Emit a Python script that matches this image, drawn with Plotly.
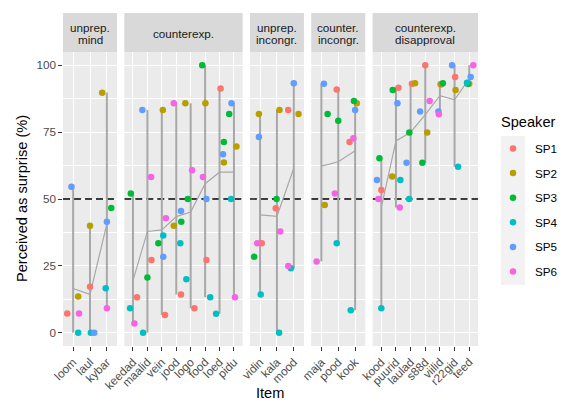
import plotly.graph_objects as go
from plotly.subplots import make_subplots

# Facets (strip labels) and the items inside each facet
facets = ["unprep.\nmind", "counterexp.", "unprep.\nincongr.", "counter.\nincongr.", "counterexp.\ndisapproval"]
facet_items = [
    ["loom", "laul", "kybar"],
    ["keedad", "maalid", "vein", "jood", "logo", "food", "loed", "pidu"],
    ["vidin", "kala", "mood"],
    ["maja", "pood", "kook"],
    ["kood", "puurid", "laulad", "s88d", "viilid", "r22gid", "teed"],
]

speakers = ["SP1", "SP2", "SP3", "SP4", "SP5", "SP6"]
colors = ["#F8766D", "#B79F00", "#00BA38", "#00BFC4", "#619CFF", "#F564E3"]

# Perceived as surprise (%) per speaker, items in facet order (None = no data)
SP1 = [7.2, 17.2, None, 13.2, 27.2, 6.6, 14.3, 9.1, 27.2, 91.3, None, 33.4, 46.5, 83.3,
       None, 91.0, 71.3, 53.4, 91.6, 93.1, 100, 92.9, 95.6, None]
SP2 = [13.5, 40.0, 89.8, None, None, 83.3, 40.0, 85.8, 85.8, 63.7, 69.6, 81.8, 83.3, 81.8,
       47.8, None, 85.8, None, 58.4, 93.3, 74.9, 92.9, 90.8, 93.1]
SP3 = [None, None, 46.6, 52.1, 20.6, 33.4, 41.5, 50.0, 100, 71.3, 81.8, 28.4, 50.0, None,
       81.8, 79.3, 86.7, 65.2, 90.8, 74.9, 63.6, 93.3, None, 93.1]
SP4 = [0, 0, 16.6, 9.1, 0, 36.3, 33.4, 20.0, 13.2, 7.1, 50.0, 14.3, 0, 24.1,
       None, 33.4, 8.4, 9.1, 57.1, 50.0, None, None, 62.1, 93.5]
SP5 = [54.6, 0, 41.5, None, 83.3, 28.4, 45.5, None, 50.0, 66.7, 85.8, 73.2, None, 93.3,
       93.1, None, 83.3, 57.1, 85.8, 63.6, 82.7, 82.7, 100, 95.6]
SP6 = [7.2, None, 9.1, 3.4, 58.2, 42.8, 85.8, 60.8, 58.2, None, 13.2, 33.4, 37.8, 24.9,
       26.6, 52.1, 72.7, 50.0, 46.8, None, 86.7, 81.7, None, 100]
values = [SP1, SP2, SP3, SP4, SP5, SP6]

# Horizontal jitter (in item units) applied to each point
J1 = [-0.35, 0, 0, 0.28, 0.28, 0.22, 0.33, 0.26, 0.09, 0.07, 0, 0.1, -0.07, -0.33,
      0, -0.09, -0.33, 0, 0.17, 0.09, 0, 0.04, 0.04, 0]
J2 = [0.30, 0, -0.28, 0, 0, 0.07, -0.17, -0.37, 0.02, 0.3, 0.17, -0.07, 0.15, 0.28,
      0.2, 0, 0.1, 0, -0.26, 0.3, 0.13, 0.09, 0.07, 0]
J3 = [0, 0, 0.26, -0.15, 0, -0.24, 0.35, -0.2, -0.2, 0.3, -0.33, -0.35, -0.02, 0,
      0.37, 0, -0.07, -0.13, -0.22, -0.09, -0.2, 0.2, 0, -0.1]
J4 = [0.30, 0.05, -0.07, -0.2, -0.3, 0.1, 0.28, -0.3, 0.35, -0.24, -0.2, 0.04, 0.13, -0.17,
      0, -0.09, -0.26, 0, 0.3, -0.1, 0, 0, 0.24, -0.15]
J5 = [-0.1, 0.25, 0, 0, -0.35, 0.1, 0.33, 0, 0.09, 0.24, -0.17, -0.07, 0, 0,
      0.15, 0, 0, -0.3, 0.1, -0.28, -0.35, -0.1, -0.17, 0.1]
J6 = [0.35, 0, 0, 0.1, 0.26, 0.28, -0.17, 0.1, -0.15, 0, 0.07, -0.17, 0.2, -0.33,
      -0.28, -0.2, -0.1, -0.2, 0.26, 0, 0.3, -0.07, 0, 0.28]
jitters = [J1, J2, J3, J4, J5, J6]

THRESHOLD = 50

FONT = "Liberation Sans, Arial, sans-serif"
LINE_GREY = "#A8A8A8"

# plot-area geometry in pixels
W, H = 566, 408
L, R, T, B = 63, 88, 52, 62
PW, PH = W - L - R, H - T - B


def px_x(x):
    return (x - L) / PW


def px_y(y):
    return 1 - (y - T) / PH


widths = [len(it) + 1.2 for it in facet_items]
fig = make_subplots(rows=1, cols=len(facets), shared_yaxes=True,
                    column_widths=widths, horizontal_spacing=7.3 / PW)

start = 0
for c, items in enumerate(facet_items, start=1):
    n = len(items)
    idx = list(range(start, start + n))
    pos = list(range(1, n + 1))

    # dashed reference line at 50 %
    fig.add_trace(go.Scatter(x=[0.4, n + 0.6], y=[THRESHOLD, THRESHOLD], mode="lines",
                             line=dict(color="black", width=1.4, dash="7px,4px"),
                             showlegend=False, hoverinfo="skip"), row=1, col=c)

    # min-max range line per item and the per-item mean line
    rx, ry, means = [], [], []
    for p, i in zip(pos, idx):
        vals = [v[i] for v in values if v[i] is not None]
        rx += [p, p, None]
        ry += [min(vals), max(vals), None]
        means.append(sum(vals) / len(vals))
    fig.add_trace(go.Scatter(x=rx, y=ry, mode="lines", line=dict(color=LINE_GREY, width=2),
                             showlegend=False, hoverinfo="skip"), row=1, col=c)
    fig.add_trace(go.Scatter(x=pos, y=means, mode="lines", line=dict(color=LINE_GREY, width=1.2),
                             showlegend=False, hoverinfo="skip"), row=1, col=c)

    for name, col, vals, jit in zip(speakers, colors, values, jitters):
        xs, ys = [], []
        for p, i in zip(pos, idx):
            if vals[i] is not None:
                xs.append(p + jit[i])
                ys.append(vals[i])
        fig.add_trace(go.Scatter(x=xs, y=ys, mode="markers", name=name,
                                 marker=dict(color=col, size=6.5, line=dict(width=0)),
                                 showlegend=False),
                      row=1, col=c)

    fig.update_xaxes(range=[0.4, n + 0.6], tickmode="array", tickvals=pos, ticktext=items,
                     tickangle=-45, showgrid=True, gridcolor="white", gridwidth=1.1,
                     zeroline=False, ticks="outside", ticklen=3.7, tickwidth=1.07,
                     tickcolor="#333333", tickfont=dict(family=FONT, size=11.7, color="#4D4D4D"),
                     row=1, col=c)

    # facet strip
    xd = "x domain" if c == 1 else f"x{c} domain"
    fig.add_shape(type="rect", xref=xd, yref="paper", x0=0, x1=1, y0=1, y1=px_y(13),
                  fillcolor="#D9D9D9", line=dict(width=0))
    lines = facets[c - 1].split("\n")
    offs = [0] if len(lines) == 1 else [6, -6]
    for txt, o in zip(lines, offs):
        fig.add_annotation(xref=xd, yref="paper", x=0.5, y=px_y(33), yshift=o,
                           text=txt, showarrow=False, xanchor="center", yanchor="middle",
                           font=dict(family=FONT, size=11.7, color="#1A1A1A"))
    start += n

fig.update_yaxes(range=[-5, 105], tickvals=[0, 25, 50, 75, 100], showgrid=True,
                 gridcolor="white", gridwidth=1.1, zeroline=False,
                 minor=dict(tickvals=[12.5, 37.5, 62.5, 87.5], showgrid=True,
                            gridcolor="white", gridwidth=0.55, ticks=""),
                 tickfont=dict(family=FONT, size=11.7, color="#4D4D4D"))
fig.update_yaxes(ticks="outside", ticklen=3.7, tickwidth=1.07, tickcolor="#333333", row=1, col=1)

# axis titles
fig.add_annotation(xref="paper", yref="paper", x=px_x(22), y=0.5, text="Perceived as surprise (%)",
                   textangle=-90, showarrow=False, xanchor="center", yanchor="middle",
                   font=dict(family=FONT, size=14.6, color="black"))
fig.add_annotation(xref="paper", yref="paper", x=px_x(270), y=px_y(393), text="Item",
                   showarrow=False, xanchor="center", yanchor="middle",
                   font=dict(family=FONT, size=14.6, color="black"))

# speaker legend: title, grey key column, coloured keys and labels
fig.add_annotation(xref="paper", yref="paper", x=px_x(499), y=px_y(122), text="Speaker",
                   showarrow=False, xanchor="left", yanchor="middle",
                   font=dict(family=FONT, size=14.6, color="black"))
fig.add_shape(type="rect", xref="paper", yref="paper", x0=px_x(501), x1=px_x(525),
              y0=px_y(136), y1=px_y(285), fillcolor="#F2F2F2", line=dict(width=0), layer="below")
KEY_X, KEY_Y0, KEY_STEP = 513, 148.5, 24.6
for k, (name, col) in enumerate(zip(speakers, colors)):
    ky = KEY_Y0 + k * KEY_STEP
    fig.add_shape(type="circle", xref="paper", yref="paper",
                  xsizemode="pixel", ysizemode="pixel",
                  xanchor=px_x(KEY_X), yanchor=px_y(ky),
                  x0=-3.25, x1=3.25, y0=-3.25, y1=3.25,
                  fillcolor=col, line=dict(width=0))
    fig.add_annotation(xref="paper", yref="paper", x=px_x(533), y=px_y(ky), text=name,
                       showarrow=False, xanchor="left", yanchor="middle",
                       font=dict(family=FONT, size=11.7, color="black"))

fig.update_layout(
    width=W, height=H,
    margin=dict(l=L, r=R, t=T, b=B),
    plot_bgcolor="#EBEBEB", paper_bgcolor="white",
    font=dict(family=FONT),
    showlegend=False,
)

fig.write_html("out.html")
